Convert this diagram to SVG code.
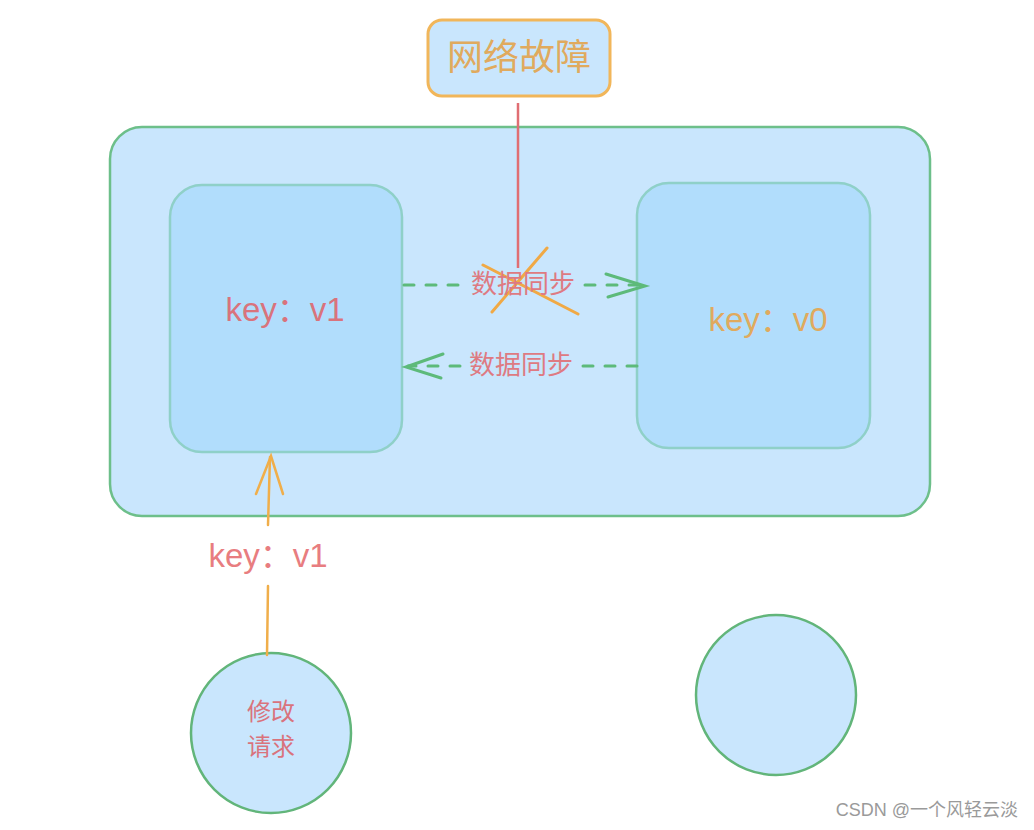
<svg xmlns="http://www.w3.org/2000/svg" width="1034" height="830" viewBox="0 0 1034 830">
<style>
.outer{fill:#c9e6fd;stroke:#6dbf8a;stroke-width:2.5}
.inner{fill:#b1ddfc;stroke:#8fd0c8;stroke-width:2.5}
.circ{fill:#c9e6fd;stroke:#62b57a;stroke-width:2.5}
.top{fill:#c9e6fd;stroke:#f1b65a;stroke-width:3}
.cn{font-family:"Noto Sans CJK SC","Noto Sans",sans-serif;text-anchor:middle}
.key{font-family:"Liberation Sans","Noto Sans CJK SC",sans-serif;text-anchor:middle;font-size:33px}
.dash{fill:none;stroke:#5dba7a;stroke-width:3;stroke-dasharray:10 12;stroke-linecap:round}
.head{fill:none;stroke:#5dba7a;stroke-width:3;stroke-linecap:round}
</style>
<rect width="1034" height="830" fill="#ffffff"/>
<g id="outer-box">
<rect class="outer" x="110" y="127" width="820" height="389" rx="32"/>
</g>
<g id="node-left">
<rect class="inner" x="170" y="185" width="232" height="267" rx="32"/>
<text class="key" x="285" y="321" fill="#d9737c">key：v1</text>
</g>
<g id="node-right">
<rect class="inner" x="637" y="183" width="233" height="265" rx="32"/>
<text class="key" x="768" y="331" fill="#e0aa5e">key：v0</text>
</g>
<g id="node-fault">
<rect class="top" x="428" y="20" width="182" height="76" rx="14"/>
<text class="cn" x="519" y="70" font-size="36" fill="#e0aa5e">网络故障</text>
</g>
<g id="node-request">
<circle class="circ" cx="271" cy="733" r="80"/>
<text class="cn" x="271" y="720" font-size="24" fill="#d9737c">修改</text>
<text class="cn" x="271" y="755" font-size="24" fill="#d9737c">请求</text>
</g>
<g id="node-empty">
<circle class="circ" cx="776" cy="695" r="80"/>
</g>
<g id="connectors">
<line x1="518" y1="103" x2="518" y2="268" stroke="#e06e73" stroke-width="2.5"/>
<line x1="483" y1="265" x2="578" y2="314" stroke="#f0a945" stroke-width="3" stroke-linecap="round"/>
<line x1="547" y1="248" x2="492" y2="312" stroke="#f0a945" stroke-width="3" stroke-linecap="round"/>
<path class="dash" d="M404 285 H460 M585 285 H643"/>
<path class="head" d="M606 274 L645 286 L608 297"/>
<text class="cn" x="523" y="293" font-size="26" fill="#de7a82">数据同步</text>
<path class="dash" d="M637 366 H580 M460 366 H408"/>
<path class="head" d="M443 354 L406 367 L441 378"/>
<text class="cn" x="521" y="374" font-size="26" fill="#de7a82">数据同步</text>
<path d="M267 655 L268 586 M268 525 L270 457" fill="none" stroke="#f0ae4a" stroke-width="2.5" stroke-linecap="round"/>
<path d="M256 494 L271 456 L283 494" fill="none" stroke="#f0ae4a" stroke-width="2.5" stroke-linecap="round"/>
<text class="key" x="268" y="567" fill="#e87d80">key：v1</text>
</g>
<text x="1018" y="816" font-family="'Liberation Sans','Noto Sans CJK SC',sans-serif" font-size="18" fill="#9a9a9a" text-anchor="end">CSDN @一个风轻云淡</text>
</svg>
